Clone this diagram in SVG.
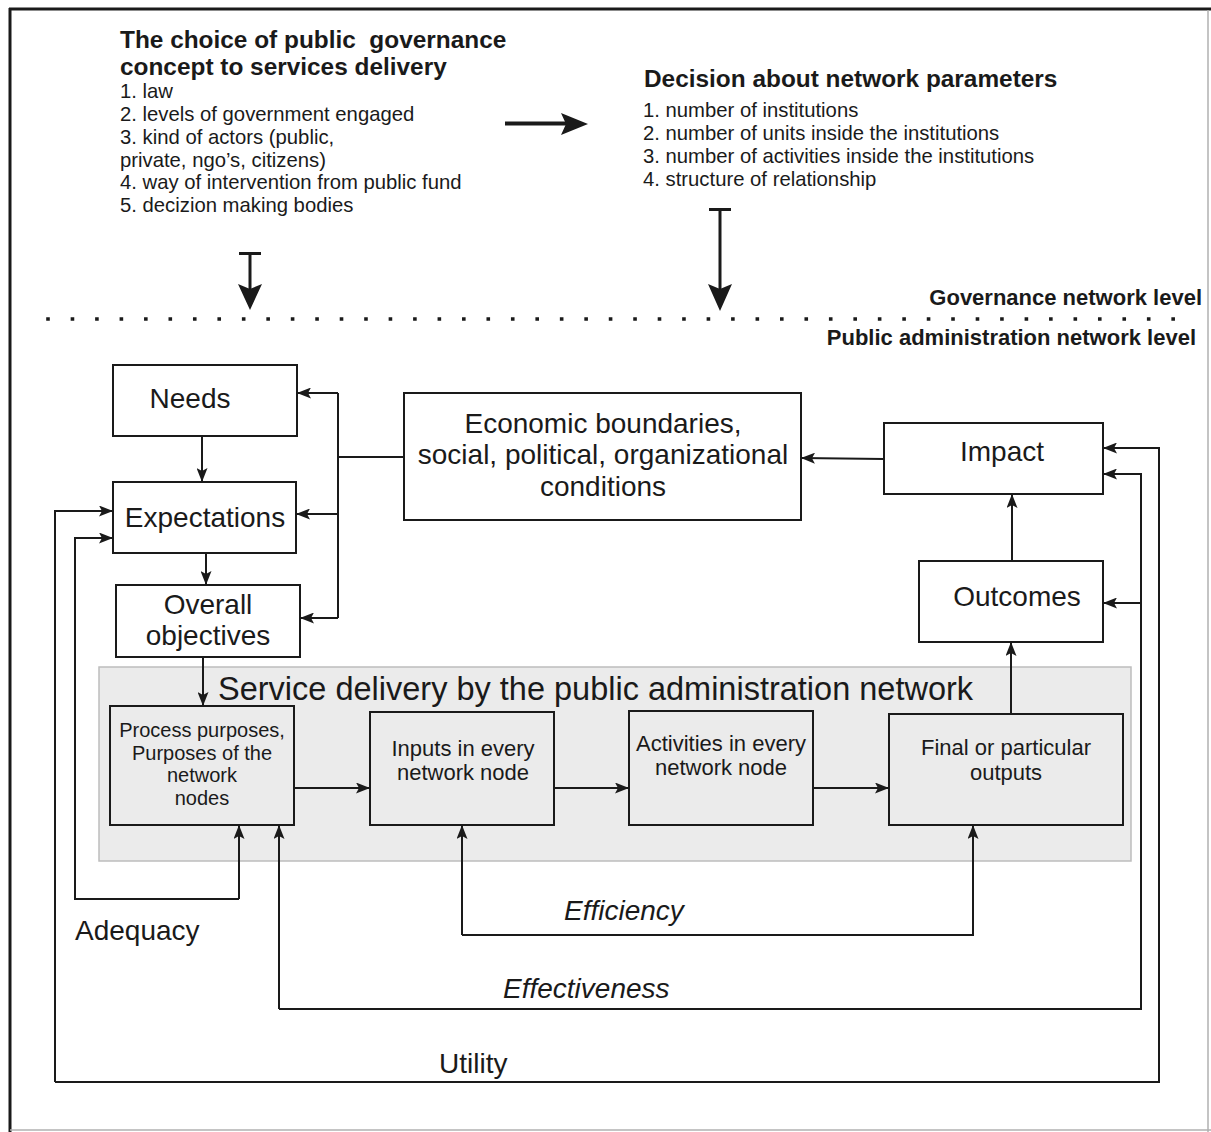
<svg xmlns="http://www.w3.org/2000/svg" width="1211" height="1132" viewBox="0 0 1211 1132">
<style>
text{font-family:"Liberation Sans",Arial,sans-serif;fill:#1a1a1a}
.hd{font-size:24.4px;font-weight:bold}
.li{font-size:20.3px}
.lv{font-size:22px;font-weight:bold}
.bx{fill:#fff;stroke:#1a1a1a;stroke-width:2}
.ib{fill:#ebebeb;stroke:#1a1a1a;stroke-width:2}
.bt{font-size:28px;text-anchor:middle}
.st{font-size:22px;text-anchor:middle}
.pt{font-size:20px;text-anchor:middle}
.lb{font-size:28px}
.it{font-size:28px;font-style:italic}
.c{fill:none;stroke:#1a1a1a;stroke-width:2}
.ca{fill:none;stroke:#1a1a1a;stroke-width:2;marker-end:url(#a)}
</style>
<defs>
<marker id="a" viewBox="0 0 14 11" refX="14" refY="5.5" markerWidth="14" markerHeight="11" orient="auto" markerUnits="userSpaceOnUse">
<path d="M0,0 L14,5.5 L0,11 L3,5.5 Z" fill="#1a1a1a"/>
</marker>
</defs>
<rect x="0" y="0" width="1211" height="1132" fill="#fff"/>
<g id="frame">
<line x1="9" y1="9" x2="1211" y2="9" stroke="#1a1a1a" stroke-width="3"/>
<line x1="10" y1="8" x2="10" y2="1132" stroke="#1a1a1a" stroke-width="3"/>
<line x1="1208" y1="10" x2="1208" y2="1132" stroke="#b0b0b0" stroke-width="1.5"/>
<line x1="10" y1="1130" x2="1211" y2="1130" stroke="#b0b0b0" stroke-width="1.5"/>
</g>
<g id="governance-choice">
<text class="hd" x="120" y="48" style="white-space:pre">The choice of public  governance</text>
<text class="hd" x="120" y="75">concept to services delivery</text>
<text class="li" x="120" y="98">1. law</text>
<text class="li" x="120" y="121">2. levels of government engaged</text>
<text class="li" x="120" y="144">3. kind of actors (public,</text>
<text class="li" x="120" y="167">private, ngo’s, citizens)</text>
<text class="li" x="120" y="189">4. way of intervention from public fund</text>
<text class="li" x="120" y="212">5. decizion making bodies</text>
</g>
<g id="network-parameters">
<text class="hd" x="644" y="87">Decision about network parameters</text>
<text class="li" x="643" y="117">1. number of institutions</text>
<text class="li" x="643" y="140">2. number of units inside the institutions</text>
<text class="li" x="643" y="163">3. number of activities inside the institutions</text>
<text class="li" x="643" y="186">4. structure of relationship</text>
</g>
<g id="top-arrows" fill="#1a1a1a">
<line x1="505" y1="123.5" x2="566" y2="123.5" stroke="#1a1a1a" stroke-width="4"/>
<path d="M561,113 L588,124 L561,135 L566,124 Z"/>
<line x1="239" y1="253.5" x2="261" y2="253.5" stroke="#1a1a1a" stroke-width="3"/>
<line x1="250" y1="253" x2="250" y2="290" stroke="#1a1a1a" stroke-width="3"/>
<path d="M238,284 L250,310 L262,284 L250,289 Z"/>
<line x1="709" y1="209.5" x2="731" y2="209.5" stroke="#1a1a1a" stroke-width="3"/>
<line x1="720" y1="209" x2="720" y2="290" stroke="#1a1a1a" stroke-width="3"/>
<path d="M708,284 L720,311 L732,284 L720,289 Z"/>
</g>
<g id="level-divider">
<line x1="46.2" y1="319" x2="1176" y2="319" stroke="#1a1a1a" stroke-width="3.6" stroke-dasharray="3.6 20.86"/>
<text class="lv" x="1202" y="305" text-anchor="end">Governance network level</text>
<text class="lv" x="1196" y="345" text-anchor="end">Public administration network level</text>
</g>
<g id="service-delivery-panel">
<rect x="99" y="667" width="1032" height="194" fill="#ebebeb" stroke="#bdbdbd" stroke-width="1.5"/>
<text x="218" y="700" style="font-size:32.5px">Service delivery by the public administration network</text>
</g>
<g id="needs"><rect class="bx" x="113" y="365" width="184" height="71"/><text class="bt" x="190" y="408">Needs</text></g>
<g id="expectations"><rect class="bx" x="113" y="482" width="183" height="71"/><text class="bt" x="205" y="527">Expectations</text></g>
<g id="overall-objectives"><rect class="bx" x="116" y="585" width="184" height="72"/><text class="bt" x="208" y="614">Overall</text><text class="bt" x="208" y="645">objectives</text></g>
<g id="economic-conditions"><rect class="bx" x="404" y="393" width="397" height="127"/><text class="bt" x="603" y="433">Economic boundaries,</text><text class="bt" x="603" y="464">social, political, organizational</text><text class="bt" x="603" y="496">conditions</text></g>
<g id="impact"><rect class="bx" x="884" y="423" width="219" height="71"/><text class="bt" x="1002" y="461">Impact</text></g>
<g id="outcomes"><rect class="bx" x="919" y="561" width="184" height="81"/><text class="bt" x="1017" y="606">Outcomes</text></g>
<g id="process-purposes"><rect class="ib" x="110" y="706" width="184" height="119"/><text class="pt" x="202" y="737">Process purposes,</text><text class="pt" x="202" y="760">Purposes of the</text><text class="pt" x="202" y="782">network</text><text class="pt" x="202" y="805">nodes</text></g>
<g id="inputs"><rect class="ib" x="370" y="712" width="184" height="113"/><text class="st" x="463" y="756">Inputs in every</text><text class="st" x="463" y="780">network node</text></g>
<g id="activities"><rect class="ib" x="629" y="711" width="184" height="114"/><text class="st" x="721" y="751">Activities in every</text><text class="st" x="721" y="775">network node</text></g>
<g id="outputs"><rect class="ib" x="889" y="714" width="234" height="111"/><text class="st" x="1006" y="755">Final or particular</text><text class="st" x="1006" y="780">outputs</text></g>
<g id="connectors">
<path class="ca" d="M202,437 L202,482"/>
<path class="ca" d="M206,553 L206,585"/>
<path class="ca" d="M203,657 L203,706"/>
<path class="c" d="M404,457 L338,457 M338,393 L338,618"/>
<path class="ca" d="M338,393 L297,393"/>
<path class="ca" d="M338,514 L296,514"/>
<path class="ca" d="M338,618 L300,618"/>
<path class="ca" d="M884,459 L801,458"/>
<path class="ca" d="M1012,561 L1012,494"/>
<path class="ca" d="M1011,714 L1011,642"/>
<path class="ca" d="M294,788 L370,788"/>
<path class="ca" d="M554,788 L629,788"/>
<path class="ca" d="M813,788 L889,788"/>
<path class="ca" d="M239,899 L239,825"/>
<path class="ca" d="M239,899 L75,899 L75,538 L113,538"/>
<path class="ca" d="M462,935 L462,825"/>
<path class="ca" d="M462,935 L973,935 L973,825"/>
<path class="ca" d="M279,1009 L279,825"/>
<path class="ca" d="M279,1009 L1141,1009 L1141,474 L1103,474"/>
<path class="ca" d="M1141,603 L1103,603"/>
<path class="ca" d="M55,1082 L55,511 L113,511"/>
<path class="ca" d="M55,1082 L1159,1082 L1159,448 L1103,448"/>
</g>
<g id="loop-labels">
<text class="lb" x="75" y="940">Adequacy</text>
<text class="it" x="564" y="920">Efficiency</text>
<text class="it" x="503" y="998">Effectiveness</text>
<text class="lb" x="439" y="1073">Utility</text>
</g>
</svg>
